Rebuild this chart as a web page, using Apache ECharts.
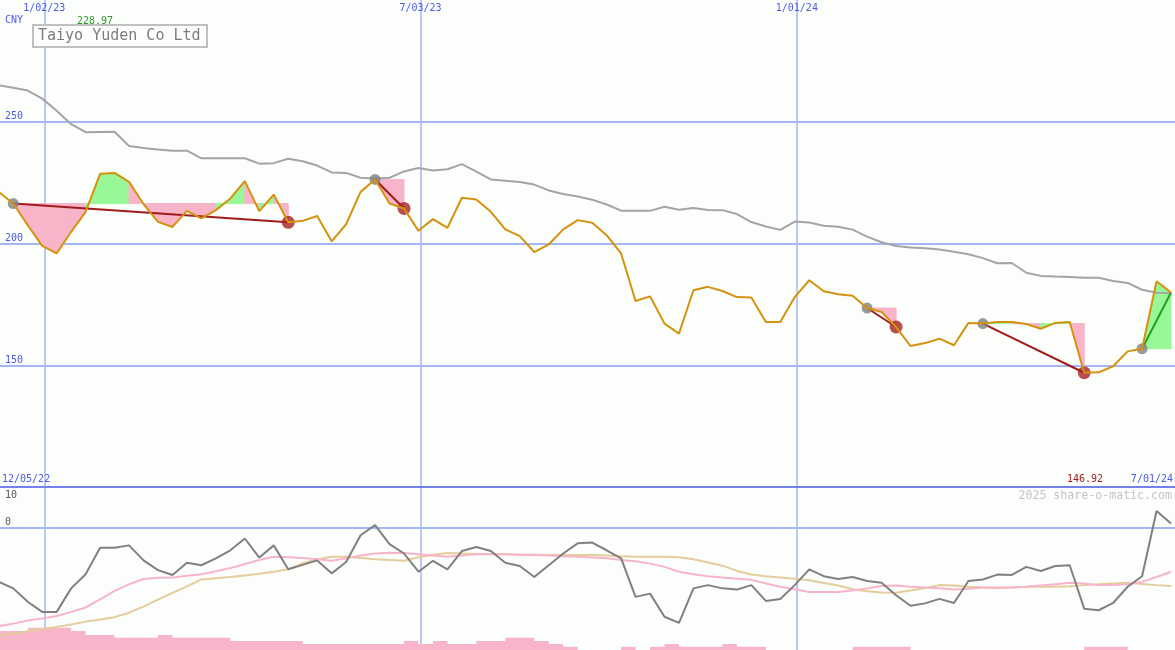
<!DOCTYPE html>
<html>
<head>
<meta charset="utf-8">
<title>Taiyo Yuden Co Ltd</title>
<script src="https://cdn.jsdelivr.net/npm/echarts@6/dist/echarts.min.js"></script>
<style>
  html, body { margin: 0; padding: 0; background: #fcfefc; }
  #chart { width: 1175px; height: 650px; }
</style>
</head>
<body>
<div id="chart"></div>
<script>
// weekly points, first one is the week of 12/11/22
const firstWeek = Date.UTC(2022, 11, 11)
const weekMs = 7 * 24 * 3600 * 1000

const price = [221.1, 216.4, 207.5, 199.0, 195.9, 204.8, 213.0, 228.6, 228.97, 225.3,
  216.2, 208.9, 206.8, 213.4, 210.3, 213.7, 218.5, 225.6, 213.3, 220.1,
  208.7, 209.3, 211.3, 200.9, 207.9, 221.2, 226.3, 216.4, 214.4, 205.2,
  210.0, 206.4, 218.8, 218.1, 213.0, 205.8, 203.0, 196.5, 199.6, 205.8,
  209.6, 208.5, 203.4, 195.9, 176.4, 178.3, 167.1, 163.0, 180.8, 182.2,
  180.5, 178.0, 177.8, 167.8, 167.8, 178.0, 184.9, 180.4, 179.2, 178.5,
  173.5, 171.9, 165.7, 157.9, 159.1, 160.9, 158.2, 167.4, 167.1, 167.8,
  167.8, 166.9, 165.0, 167.4, 167.8, 146.92, 147.1, 149.6, 155.7, 156.8,
  184.5, 179.9]

const priceAvg = [265.0, 264.0, 262.8, 259.5, 254.5, 249.0, 245.7, 245.8, 245.9, 240.0,
  239.2, 238.6, 238.1, 238.1, 235.0, 235.0, 235.0, 235.0, 232.8, 233.0,
  234.8, 233.8, 232.0, 229.2, 229.0, 227.0, 226.7, 227.0, 229.6, 231.0,
  230.0, 230.5, 232.6, 229.5, 226.3, 225.8, 225.3, 224.2, 221.8, 220.3,
  219.3, 218.0, 216.0, 213.5, 213.4, 213.4, 215.1, 213.9, 214.6, 213.8,
  213.7, 212.1, 208.8, 207.0, 205.6, 209.0, 208.6, 207.3, 206.9, 205.7,
  202.8, 200.5, 199.0, 198.4, 198.0, 197.5, 196.6, 195.6, 194.0, 191.9,
  192.0, 188.0, 186.7, 186.4, 186.2, 185.9, 185.9, 184.6, 183.8, 181.0,
  179.8, 179.7]

const momentum = [-13.4, -15.0, -18.3, -20.8, -20.8, -15.0, -11.5, -5.0, -5.0, -4.4,
  -8.1, -10.5, -11.7, -8.7, -9.3, -7.6, -5.6, -2.7, -7.4, -4.4,
  -10.3, -9.2, -8.1, -11.3, -8.5, -1.9, 0.6, -4.1, -6.4, -10.9,
  -8.2, -10.3, -5.8, -4.8, -5.8, -8.7, -9.5, -12.2, -9.3, -6.4,
  -3.9, -3.7, -5.6, -7.6, -17.1, -16.3, -22.0, -23.5, -15.0, -14.2,
  -15.0, -15.3, -14.2, -18.1, -17.6, -14.2, -10.3, -12.0, -12.7, -12.2,
  -13.2, -13.6, -16.7, -19.3, -18.7, -17.6, -18.6, -13.2, -12.8, -11.6,
  -11.7, -9.7, -10.7, -9.5, -9.3, -20.0, -20.4, -18.6, -14.6, -12.0,
  4.1, 1.0]

const momentumFast = [-24.3, -23.7, -22.9, -22.4, -21.8, -20.8, -19.7, -17.7, -15.6, -14.0,
  -12.7, -12.4, -12.3, -11.9, -11.5, -10.8, -10.0, -9.0, -8.0, -7.2,
  -7.3, -7.5, -7.8, -8.2, -7.6, -6.9, -6.4, -6.2, -6.3, -6.6,
  -6.9, -7.2, -6.9, -6.6, -6.6, -6.6, -6.7, -6.8, -6.9, -7.1,
  -7.2, -7.4, -7.6, -8.0, -8.3, -8.9, -9.7, -10.9, -11.5, -12.0,
  -12.3, -12.6, -12.9, -13.8, -14.6, -15.2, -15.9, -15.9, -15.9, -15.5,
  -15.0, -14.4, -14.3, -14.6, -14.8, -15.0, -15.3, -15.1, -14.8, -14.8,
  -14.8, -14.6, -14.3, -14.0, -13.6, -13.8, -14.2, -14.2, -14.0, -13.4,
  -12.2, -10.9]

const momentumSlow = [-26.6, -26.1, -25.6, -25.0, -24.5, -23.9, -23.2, -22.7, -22.1, -21.0,
  -19.5, -17.8, -16.1, -14.5, -12.8, -12.5, -12.2, -11.8, -11.4, -10.9,
  -10.3, -8.8, -7.9, -7.2, -7.2, -7.5, -7.8, -8.0, -8.2, -7.3,
  -6.7, -6.3, -6.4, -6.5, -6.5, -6.6, -6.7, -6.7, -6.8, -6.8,
  -6.8, -6.8, -6.9, -7.1, -7.2, -7.2, -7.2, -7.3, -7.8, -8.6,
  -9.4, -10.7, -11.6, -12.0, -12.3, -12.6, -13.0, -13.7, -14.3, -15.2,
  -15.7, -16.0, -16.1, -15.5, -14.9, -14.2, -14.3, -14.6, -14.8, -15.0,
  -14.8, -14.6, -14.6, -14.6, -14.5, -14.2, -14.0, -13.8, -13.6, -13.9,
  -14.2, -14.4]

const volume = [5.7, 5.7, 6.7, 6.7, 6.7, 5.7, 4.5, 4.5, 3.7, 3.7,
  3.7, 4.5, 3.7, 3.7, 3.7, 3.7, 2.7, 2.7, 2.7, 2.7,
  2.7, 1.8, 1.8, 1.8, 1.8, 1.8, 1.8, 1.8, 2.7, 1.8,
  2.7, 1.8, 1.8, 2.7, 2.7, 3.7, 3.7, 2.7, 1.8, 1.0,
  0, 0, 0, 1.0, 0, 1.0, 1.8, 1.0, 1.0, 1.0,
  1.8, 1.0, 1.0, 0, 0, 0, 0, 0, 0, 1.0,
  1.0, 1.0, 1.0, 0, 0, 0, 0, 0, 0, 0,
  0, 0, 0, 0, 0, 1.0, 1.0, 1.0, 0, 0,
  0, 0]

// [entry index, exit index, still open]
const trades = [[1, 20, false], [26, 28, false], [60, 62, false], [68, 75, false], [79, 81, true]]

const dateTicks = ['2023-01-02', '2023-07-03', '2024-01-01']
const priceTicks = [150, 200, 250]
const momTicks = [0, -30]
const momTopTick = [10]
const rangeLabels = ['12/05/22', '7/01/24']

const xMin = Date.UTC(2022, 11, 11, 14)
const xMax = Date.UTC(2024, 6, 1, 22)

const mono = '"DejaVu Sans Mono", monospace'
const blue = '#4a5ae6'
const gridBlue = '#a6b6f2'
const pink = '#f8b4c8'
const green = '#98f898'
const red = '#a01c1c'

const weeks = price.map((p, i) => firstWeek + i * weekMs)
const pair = (arr) => arr.map((v, i) => [weeks[i], v])
const tickTimes = dateTicks.map(d => Date.parse(d))

function fmtDate (v) {
  const d = new Date(v)
  return (d.getUTCMonth() + 1) + '/' + String(d.getUTCDate()).padStart(2, '0') + '/' + String(d.getUTCFullYear()).slice(2)
}

// shaded area between the entry level and the price, one piece per week
const fillData = []
trades.forEach(([s, e]) => {
  for (let i = s; i < e; i++) {
    fillData.push([weeks[i], weeks[i + 1], price[i], price[i + 1], price[s]])
  }
})

const tradeLines = trades.map(([s, e, open]) => ({
  coords: [[weeks[s], price[s]], [weeks[e], price[e]]],
  lineStyle: { color: open ? '#22a022' : red }
}))
const entries = trades.map(([s]) => [weeks[s], price[s]])
const exits = trades.filter(t => !t[2]).map(([s, e]) => [weeks[e], price[e]])

const hi = Math.max(...price).toFixed(2)
const lo = Math.min(...price).toFixed(2)

const chart = echarts.init(document.getElementById('chart'))

const option = {
  backgroundColor: '#fcfefc',
  animation: false,
  grid: [
    { left: 0, right: 0, top: 0, height: 487 },
    { left: 0, right: 0, top: 487, height: 163 }
  ],
  xAxis: [
    {
      type: 'value', gridIndex: 0, min: xMin, max: xMax, position: 'top',
      axisLine: { show: false },
      axisTick: { show: false, customValues: tickTimes },
      axisLabel: { inside: true, customValues: tickTimes, formatter: fmtDate, color: blue, fontFamily: mono, fontSize: 10, margin: 3 },
      splitLine: { show: true, lineStyle: { color: gridBlue, width: 1.5 } }
    },
    {
      type: 'value', gridIndex: 1, min: xMin, max: xMax, position: 'top',
      axisLine: { show: true, onZero: false, lineStyle: { color: '#7282ea', width: 2 } },
      axisTick: { show: false, customValues: tickTimes },
      axisLabel: { show: false },
      splitLine: { show: true, lineStyle: { color: gridBlue, width: 1.5 } }
    }
  ],
  yAxis: [
    {
      type: 'value', gridIndex: 0, min: 100, max: 300,
      axisLine: { show: false },
      axisTick: { show: false, customValues: priceTicks },
      axisLabel: { inside: true, customValues: priceTicks, color: blue, fontFamily: mono, fontSize: 10, margin: 5, verticalAlign: 'bottom' },
      splitLine: { show: true, lineStyle: { color: gridBlue, width: 2 } }
    },
    {
      type: 'value', gridIndex: 1, min: -30.2, max: 10, position: 'left',
      axisLine: { show: false },
      axisTick: { show: false, customValues: [0] },
      axisLabel: { inside: true, customValues: momTicks, color: '#555', fontFamily: mono, fontSize: 10, margin: 5, verticalAlign: 'bottom' },
      splitLine: { show: true, lineStyle: { color: gridBlue, width: 2 } }
    },
    {
      type: 'value', gridIndex: 1, min: -30.2, max: 10, position: 'left',
      axisLine: { show: false },
      axisTick: { show: false, customValues: momTopTick },
      axisLabel: { inside: true, customValues: momTopTick, color: '#555', fontFamily: mono, fontSize: 10, margin: 5, verticalAlign: 'top', padding: [3, 0, 0, 0] },
      splitLine: { show: false }
    },
    { type: 'value', gridIndex: 1, min: 0, max: 49, show: false }
  ],
  series: [
    {
      type: 'custom', name: 'trade fill', xAxisIndex: 0, yAxisIndex: 0, z: 1,
      data: fillData,
      encode: { x: [0, 1], y: [2, 3, 4] },
      renderItem: function (params, api) {
        const a = api.coord([api.value(0), api.value(4)])
        const b = api.coord([api.value(0), api.value(2)])
        const c = api.coord([api.value(1), api.value(3)])
        const d = api.coord([api.value(1), api.value(4)])
        const col = api.value(3) > api.value(4) ? green : pink
        return { type: 'polygon', shape: { points: [a, b, c, d] }, style: { fill: col, stroke: col, lineWidth: 1 } }
      }
    },
    {
      type: 'line', name: 'average', xAxisIndex: 0, yAxisIndex: 0, z: 2,
      data: pair(priceAvg), symbol: 'none',
      lineStyle: { color: '#a4a4a4', width: 2 }
    },
    {
      type: 'lines', coordinateSystem: 'cartesian2d', xAxisIndex: 0, yAxisIndex: 0, z: 3,
      data: tradeLines, lineStyle: { width: 2, opacity: 1 }
    },
    {
      type: 'scatter', name: 'entry', xAxisIndex: 0, yAxisIndex: 0, z: 4,
      data: entries, symbolSize: 11, itemStyle: { color: '#808080' }
    },
    {
      type: 'scatter', name: 'exit', xAxisIndex: 0, yAxisIndex: 0, z: 4,
      data: exits, symbolSize: 13, itemStyle: { color: '#a82222' }
    },
    {
      type: 'line', name: 'price', xAxisIndex: 0, yAxisIndex: 0, z: 5,
      data: pair(price), symbol: 'none',
      lineStyle: { color: '#d4920e', width: 2 }
    },
    {
      type: 'line', name: 'volume', xAxisIndex: 1, yAxisIndex: 3, z: 1,
      data: pair(volume), symbol: 'none', step: 'end',
      lineStyle: { width: 0, opacity: 0 },
      areaStyle: { color: pink, opacity: 1 }
    },
    {
      type: 'line', name: 'slow', xAxisIndex: 1, yAxisIndex: 1, z: 2,
      data: pair(momentumSlow), symbol: 'none',
      lineStyle: { color: '#e4cc9c', width: 2 }
    },
    {
      type: 'line', name: 'fast', xAxisIndex: 1, yAxisIndex: 1, z: 3,
      data: pair(momentumFast), symbol: 'none',
      lineStyle: { color: pink, width: 2 }
    },
    {
      type: 'line', name: 'momentum', xAxisIndex: 1, yAxisIndex: 1, z: 4,
      data: pair(momentum), symbol: 'none',
      lineStyle: { color: '#808080', width: 2 }
    }
  ],
  graphic: [
    { type: 'text', x: 5, y: 20, z: 100, style: { text: 'CNY', fill: blue, font: '10px ' + mono, verticalAlign: 'middle' } },
    { type: 'text', x: 77, y: 21, z: 100, style: { text: hi, fill: '#2a9a2a', font: '10px ' + mono, verticalAlign: 'middle' } },
    { type: 'rect', z: 100, shape: { x: 33, y: 25, width: 174, height: 22 }, style: { fill: '#fcfefc', stroke: '#c0c0c0', lineWidth: 2 } },
    { type: 'text', x: 38, y: 36, z: 101, style: { text: 'Taiyo Yuden Co Ltd', fill: '#7c7c7c', font: '15px ' + mono, verticalAlign: 'middle' } },
    { type: 'text', x: 2, y: 479, z: 100, style: { text: rangeLabels[0], fill: blue, font: '10px ' + mono, verticalAlign: 'middle' } },
    { type: 'text', x: 1103, y: 479, z: 100, style: { text: lo, fill: red, font: '10px ' + mono, verticalAlign: 'middle', align: 'right' } },
    { type: 'text', x: 1173, y: 479, z: 100, style: { text: rangeLabels[1], fill: blue, font: '10px ' + mono, verticalAlign: 'middle', align: 'right' } },
    { type: 'text', x: 1172, y: 496, z: 100, style: { text: '2025 share-o-matic.com', fill: '#c4c4c4', font: '11.6px ' + mono, verticalAlign: 'middle', align: 'right' } }
  ]
}

chart.setOption(option)
window.addEventListener('resize', () => chart.resize())
</script>
</body>
</html>
